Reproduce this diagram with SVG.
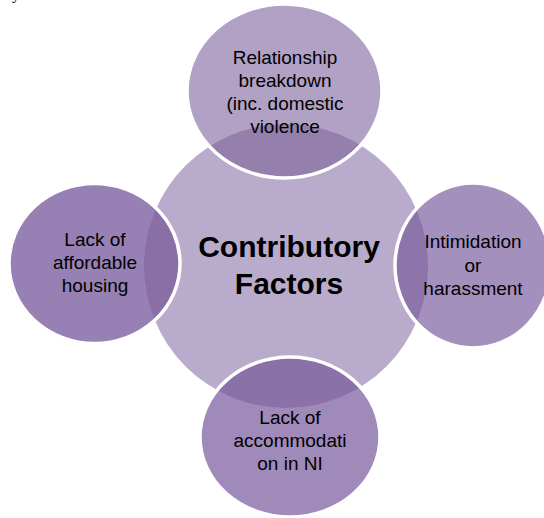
<svg xmlns="http://www.w3.org/2000/svg" width="544" height="518" viewBox="0 0 544 518">
  <style>
    .lbl { font-family: "Liberation Sans", Arial, sans-serif; font-size: 19px; fill: #000; text-anchor: middle; }
    .ctr { font-family: "Liberation Sans", Arial, sans-serif; font-size: 30px; font-weight: bold; fill: #000; text-anchor: middle; }
    .edge { fill: none; stroke: #ffffff; stroke-width: 3.5; }
  </style>
  <defs>
    <clipPath id="centerClip">
      <circle cx="286" cy="266" r="142"/>
    </clipPath>
    <ellipse id="shTop" cx="284.5" cy="91" rx="97.5" ry="87"/>
    <ellipse id="shLeft" cx="94.5" cy="263.5" rx="85.5" ry="80"/>
    <ellipse id="shRight" cx="473" cy="265.5" rx="78" ry="82.5"/>
    <ellipse id="shBottom" cx="290" cy="437" rx="90" ry="80"/>
  </defs>

  <text x="12" y="-1" style="font-family: 'Liberation Serif', serif; font-size: 16px; fill: #000;">y</text>

  <g id="center">
    <circle cx="286" cy="266" r="142" fill="#b9abcb"/>
  </g>

  <g id="connectors"></g>

  <g id="node-top">
    <use href="#shTop" fill="#b1a1c5"/>
    <use href="#shTop" fill="#9580ad" clip-path="url(#centerClip)"/>
    <use href="#shTop" class="edge"/>
    <text class="lbl" x="285" y="64">Relationship</text>
    <text class="lbl" x="285" y="87">breakdown</text>
    <text class="lbl" x="285" y="110">(inc. domestic</text>
    <text class="lbl" x="285" y="133">violence</text>
  </g>

  <g id="node-left">
    <use href="#shLeft" fill="#9781b4"/>
    <use href="#shLeft" fill="#8a6ea6" clip-path="url(#centerClip)"/>
    <use href="#shLeft" class="edge"/>
    <text class="lbl" x="95" y="246">Lack of</text>
    <text class="lbl" x="95" y="269">affordable</text>
    <text class="lbl" x="95" y="292">housing</text>
  </g>

  <g id="node-right">
    <use href="#shRight" fill="#a390bd"/>
    <use href="#shRight" fill="#8d74aa" clip-path="url(#centerClip)"/>
    <use href="#shRight" class="edge"/>
    <text class="lbl" x="473" y="248">Intimidation</text>
    <text class="lbl" x="473" y="272">or</text>
    <text class="lbl" x="473" y="295">harassment</text>
  </g>

  <g id="node-bottom">
    <use href="#shBottom" fill="#a08aba"/>
    <use href="#shBottom" fill="#8a71a8" clip-path="url(#centerClip)"/>
    <use href="#shBottom" class="edge"/>
    <text class="lbl" x="290" y="424">Lack of</text>
    <text class="lbl" x="290" y="447">accommodati</text>
    <text class="lbl" x="290" y="470">on in NI</text>
  </g>

  <g id="center-label">
    <text class="ctr" x="289" y="257">Contributory</text>
    <text class="ctr" x="289" y="294">Factors</text>
  </g>
</svg>
